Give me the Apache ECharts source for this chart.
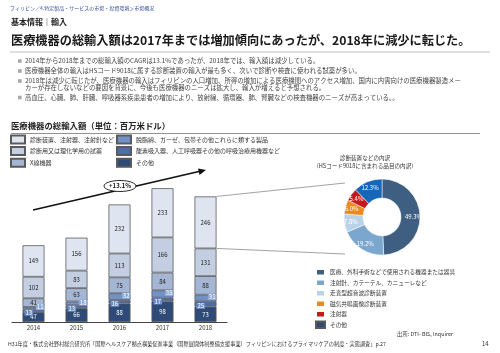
<!DOCTYPE html>
<html>
<head>
<meta charset="utf-8">
<script src="https://cdn.jsdelivr.net/npm/echarts@6/dist/echarts.min.js"></script>
<style>
html,body{margin:0;padding:0;background:#fff;}
#main{width:500px;height:353px;}
</style>
</head>
<body>
<div id="main"></div>
<script>
var FONT = '"Noto Sans CJK JP", "Noto Sans", sans-serif';

// 年
var years = ['2014', '2015', '2016', '2017', '2018'];
// 品目別輸入額（百万米ドル）
var shindan = [149, 156, 232, 233, 246];   // 診断装置、注射器、注射針など
var shiyaku = [102, 83, 113, 166, 131];    // 診断用又は理化学用の試薬
var xsen = [41, 63, 75, 84, 88];           // X線機器
var dasshimen = [11, 18, 32, 35, 31];      // 脱脂綿、ガーゼ、包帯…
var sanso = [13, 13, 16, 17, 25];          // 酸素吸入器、人工呼吸器…
var sonota = [47, 66, 88, 98, 73];         // その他
var totals = [363, 399, 556, 633, 594];

// 診断装置などの内訳（%）
var pieNames = ['医療、外科手術などで使用される機器または器具', '注射針、カテーテル、カニューレなど', '走査型超音波診断装置', '磁気共鳴画像診断装置', '注射器', 'その他'];
var pieValues = [49.3, 19.2, 7.8, 6.0, 5.4, 12.3];
var pieColors = ['#3f5f82', '#7ba7cf', '#b9d2e8', '#ec8a1f', '#c9161d', '#1667b8'];

var barNames = ['診断装置、注射器、注射針など', '診断用又は理化学用の試薬', 'X線機器',
	'脱脂綿、ガーゼ、包帯その他これらに類する製品', '酸素吸入器、人工呼吸器その他の呼吸治療用機器など', 'その他'];
var barColors = ['#dfe5f0', '#c4cee2', '#a5b6d5', '#7192c6', '#4d6ea8', '#2e4a76'];

function barSeries(name, data, color, label) {
	return {
		name: name,
		type: 'bar',
		stack: 'total',
		barWidth: 22,
		data: data,
		itemStyle: { color: color, borderColor: '#5a5a5a', borderWidth: 0.8 },
		label: label,
		z: 2
	};
}

var lblDark = { show: true, position: 'inside', color: '#222', fontSize: 6, fontFamily: FONT };
var lblLight = { show: true, position: 'inside', color: '#fff', fontSize: 6, fontFamily: FONT };

var barLegendText = { fontSize: 6, color: '#333', fontFamily: FONT, lineHeight: 8 };

var option = {
	animation: false,
	textStyle: { fontFamily: FONT },
	grid: { left: 12, top: 174, width: 215, height: 148 },
	xAxis: {
		type: 'category',
		data: years,
		axisTick: { show: false },
		axisLine: { lineStyle: { color: '#444', width: 1 } },
		axisLabel: { color: '#333', fontSize: 6, margin: 3, fontFamily: FONT }
	},
	yAxis: { type: 'value', min: 0, max: 700, show: false },
	legend: [{
		data: barNames.slice(0, 3),
		icon: 'rect',
		orient: 'vertical', left: 10, top: 134.5, padding: 0,
		itemWidth: 14, itemHeight: 8, itemGap: 1.6,
		textStyle: barLegendText,
		selectedMode: false
	}, {
		data: barNames.slice(3),
		icon: 'rect',
		orient: 'vertical', left: 116, top: 134.5, padding: 0,
		itemWidth: 14, itemHeight: 8, itemGap: 1.6,
		textStyle: barLegendText,
		selectedMode: false
	}, {
		data: pieNames,
		icon: 'rect',
		orient: 'vertical', left: 315, top: 268, padding: 0,
		itemWidth: 9, itemHeight: 6.5, itemGap: 2,
		textStyle: { fontSize: 5.7, color: '#333', fontFamily: FONT, lineHeight: 6.5 },
		selectedMode: false
	}],
	series: [
		barSeries(barNames[5], sonota, barColors[5], lblLight),
		barSeries(barNames[4], sanso, barColors[4], {
			show: true, position: 'insideLeft', offset: [-3, 2], color: '#fff', fontSize: 6,
			backgroundColor: '#6d8fc6', padding: [0, 1], fontFamily: FONT
		}),
		barSeries(barNames[3], dasshimen, barColors[3], {
			show: true, position: 'insideRight', offset: [5, -1], color: '#fff', fontSize: 6,
			backgroundColor: '#8eaad6', padding: [0, 1], fontFamily: FONT
		}),
		barSeries(barNames[2], xsen, barColors[2], lblDark),
		barSeries(barNames[1], shiyaku, barColors[1], lblDark),
		barSeries(barNames[0], shindan, barColors[0], lblDark),
		{
			name: 'total',
			type: 'line',
			data: totals,
			symbol: 'none',
			lineStyle: { opacity: 0 },
			label: { show: true, position: 'top', distance: 3, fontSize: 6, color: '#333', fontFamily: FONT },
			z: 3
		},
		{
			name: '内訳',
			type: 'pie',
			center: [382, 217],
			radius: [19, 38],
			startAngle: 90,
			data: pieNames.map(function(n, i) {
				return { name: n, value: pieValues[i], itemStyle: { color: pieColors[i] } };
			}),
			label: {
				show: true, position: 'inside', color: '#fff', fontSize: 6, fontFamily: FONT,
				formatter: function(p) { return p.value.toFixed(1) + '%'; }
			},
			labelLine: { show: false },
			itemStyle: { borderColor: '#fff', borderWidth: 0.5 }
		}
	]
};

var myChart = echarts.init(document.getElementById('main'), null, { renderer: 'canvas' });
myChart.setOption(option);

function txt(text, x, y, size, color, weight, align) {
	return {
		type: 'text',
		style: {
			text: text, x: x, y: y, fill: color || '#333', fontSize: size,
			fontFamily: FONT, fontWeight: weight || 'normal',
			align: align || 'left', verticalAlign: 'middle'
		}
	};
}
function hline(x1, y1, x2, y2, color, w) {
	return { type: 'line', shape: { x1: x1, y1: y1, x2: x2, y2: y2 }, style: { stroke: color, lineWidth: w } };
}

var els = [];
els.push(txt('フィリピン／4.特定製品・サービスの市場・投資環境＞市場概況', 10, 8, 5, '#3a4f9a'));
els.push(txt('基本情報｜輸入', 11, 22, 8, '#222', 'bold'));
els.push(txt('医療機器の総輸入額は2017年までは増加傾向にあったが、2018年に減少に転じた。', 11, 40, 12.2, '#1a1a1a', 'bold'));
els.push(hline(10, 52, 490, 52, '#d6d6d6', 1.5));

var bullets = [
	['2014年から2018年までの総輸入額のCAGRは13.1%であったが、2018年では、輸入額は減少している。', 61],
	['医療機器全体の輸入はHSコード9018に属する診断装置の輸入が最も多く、次いで診断や検査に使われる試薬が多い。', 71],
	['2018年は減少に転じたが、医療機器の輸入はフィリピンの人口増加、所得の増加による医療機関へのアクセス増加、国内に内需向けの医療機器製造メー', 81],
	['高血圧、心臓、肺、肝臓、呼吸器系疾患患者の増加により、放射線、循環器、肺、腎臓などの検査機器のニーズが高まっている。。', 97.5]
];
bullets.forEach(function(b) {
	els.push({ type: 'rect', shape: { x: 18, y: b[1] - 1.8, width: 3.6, height: 3.6 }, style: { fill: '#a8a8a8' } });
	els.push(txt(b[0], 25, b[1], 6.4, '#444'));
});
els.push(txt('カーが存在しないなどの要因を背景に、今後も医療機器のニーズは拡大し、輸入が増えると予想される。', 25, 88, 6.4, '#444'));

els.push(txt('医療機器の総輸入額（単位：百万米ドル）', 11, 126, 8.4, '#222', 'bold'));
els.push(hline(11, 133.5, 480, 133.5, '#777', 0.8));

els.push(txt('診断装置などの内訳', 365, 158, 5.6, '#333', 'normal', 'center'));
els.push(txt('（HSコード9018に含まれる品目の内訳）', 365, 166, 5.6, '#333', 'normal', 'center'));

// 増加トレンド矢印
els.push({
	type: 'line', shape: { x1: 33, y1: 210, x2: 201, y2: 171 },
	style: { stroke: '#111', lineWidth: 1.6 }
});
els.push({
	type: 'polygon', shape: { points: [[206, 170], [198, 168.5], [199.5, 175]] },
	style: { fill: '#111' }
});
els.push({
	type: 'ellipse', shape: { cx: 120, cy: 186, rx: 16, ry: 5.5 },
	style: { fill: '#fff', stroke: '#111', lineWidth: 0.9 }, z: 10
});
els.push(Object.assign(txt('+13.1%', 120, 186, 6, '#111', 'bold', 'center'), { z: 11 }));

// 2018年の棒から円グラフへの引き出し線
var top2018 = myChart.convertToPixel({ seriesIndex: 0 }, [4, totals[4]]);
var sub2018 = totals[4] - shindan[4];
var bot2018 = myChart.convertToPixel({ seriesIndex: 0 }, [4, sub2018]);
els.push(hline(top2018[0] + 11, top2018[1], 345, 183, '#8a8a8a', 0.8));
els.push(hline(bot2018[0] + 11, bot2018[1], 345, 254, '#8a8a8a', 0.8));

els.push(txt('出所: DTI- BIS, Inquirer', 397, 334, 5.4, '#333'));
els.push(txt('H31年度・株式会社野村総合研究所「国際ヘルスケア拠点構築促進事業（国際展開体制整備支援事業）フィリピンにおけるプライマリケアの制度・実態調査」p.27', 8, 344, 5.2, '#333'));
els.push(txt('14', 482, 344, 6, '#333'));

myChart.setOption({ graphic: els });
</script>
</body>
</html>
